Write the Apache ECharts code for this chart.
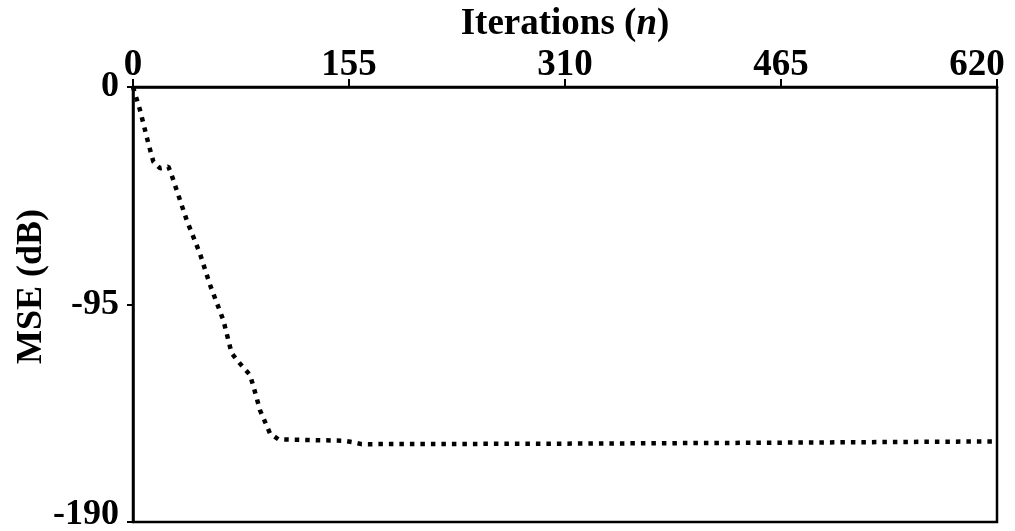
<!DOCTYPE html>
<html>
<head>
<meta charset="utf-8">
<script src="https://cdn.jsdelivr.net/npm/echarts@6/dist/echarts.min.js"></script>
<style>html,body{margin:0;padding:0;background:#fff}#c{width:1015px;height:531px}</style>
</head>
<body>
<div id="c"></div>
<script>
const iterations = [0, 1.4, 5, 11, 14.6, 19.4, 25.4, 27.7, 38.5, 48, 55.3, 64.8, 70.8, 75.6, 84, 87.5, 91.1, 98.3, 104.3, 150.9, 158.1, 164.1, 300, 450, 620];
const mseDb = [0, -2.8, -10, -24.6, -32.6, -35.5, -34.8, -38.4, -58.1, -72.7, -86.5, -101.8, -116.3, -120, -125.8, -133.1, -141.1, -151.3, -153.9, -154.5, -155.2, -156, -155.8, -155.4, -154.8];
const xTicks = [0, 155, 310, 465, 620];
const yTicks = [0, -95, -190];

const font = 'Liberation Serif';
const lab = { fontFamily: font, fontWeight: 'bold', fontSize: 37, color: '#000' };
const chart = echarts.init(document.getElementById('c'));
chart.setOption({
  animation: false,
  backgroundColor: '#fff',
  grid: { left: 133, top: 87, width: 864, height: 435, containLabel: false, outerBoundsMode: 'none',
    show: true, borderColor: '#000', borderWidth: 2.5, backgroundColor: 'transparent' },
  xAxis: {
    type: 'value', position: 'top', min: 0, max: 620, interval: 155,
    name: 'Iterations ({i|n})', nameLocation: 'middle', nameGap: 44, nameMoveOverlap: false,
    nameTextStyle: Object.assign({}, lab, {
      rich: { i: Object.assign({}, lab, { fontStyle: 'italic' }) } }),
    axisLine: { show: true, lineStyle: { color: '#000', width: 2.5 } },
    axisTick: { show: true, length: 8, lineStyle: { color: '#000', width: 2 } },
    axisLabel: Object.assign({}, lab, { margin: 3,
      formatter: v => !xTicks.includes(v) ? '' : (v === 620 ? '{m|' + v + '}' : String(v)),
      rich: { m: Object.assign({}, lab, { padding: [0, 40, 0, 0] }) } }),
    splitLine: { show: false }
  },
  yAxis: {
    type: 'value', min: -190, max: 0, interval: 95,
    name: 'MSE (dB)', nameLocation: 'middle', nameGap: 83, nameRotate: 90, nameMoveOverlap: false,
    nameTextStyle: { fontFamily: font, fontWeight: 'bold', fontSize: 36, color: '#000', padding: [0, 0, 0, 36] },
    axisLine: { show: true, lineStyle: { color: '#000', width: 2.5 } },
    axisTick: { show: true, length: 6, lineStyle: { color: '#000', width: 2 } },
    axisLabel: Object.assign({}, lab, { fontSize: 36, margin: 14,
      formatter: v => !yTicks.includes(v) ? '' : (v === -190 ? '{b|' + v + '}' : String(v)),
      rich: { b: Object.assign({}, lab, { fontSize: 36, padding: [0, 0, 14, 0] }) } }),
    splitLine: { show: false }
  },
  series: [{
    type: 'line',
    data: iterations.map((x, i) => [x, mseDb[i]]),
    showSymbol: false, symbol: 'none', smooth: false,
    lineStyle: { color: '#000', width: 4.5, type: [4.5, 6], cap: 'butt' }
  }]
});
</script>
</body>
</html>
